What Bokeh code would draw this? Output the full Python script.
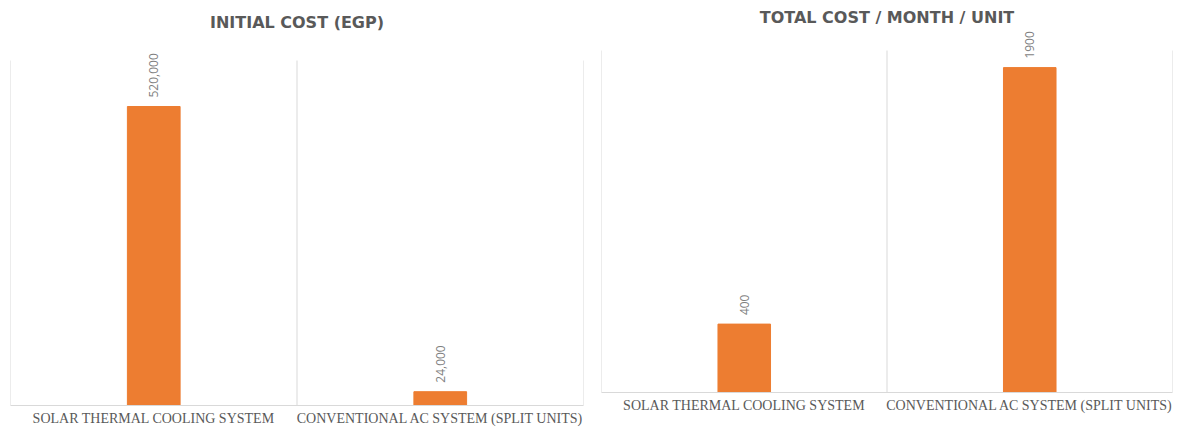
import math
from bokeh.plotting import figure
from bokeh.layouts import row, column
from bokeh.models import Range1d, FixedTicker, LabelSet, ColumnDataSource
from bokeh.core.properties import value
from bokeh.embed import file_html
from bokeh.resources import INLINE

categories = ["SOLAR THERMAL COOLING SYSTEM", "CONVENTIONAL AC SYSTEM (SPLIT UNITS)"]
initial_cost = [520000, 24000]
initial_labels = ["520,000", "24,000"]
initial_axis_max = 600000
monthly_cost = [400, 1900]
monthly_labels = ["400", "1900"]
monthly_axis_max = 2000

ORANGE = "#ED7D31"
GRID = "#d9d9d9"


def make(title, vals, labels, axis_max, fw, fh, grid_h, bl, br, bt, bb, t_standoff):
    n = len(categories)
    xs = [i + 0.5 for i in range(n)]
    y_end = axis_max * fh / grid_h  # extra headroom above the plot area for labels
    p = figure(frame_width=fw, frame_height=fh, x_range=Range1d(0, n),
               y_range=Range1d(0, y_end), output_backend="svg", toolbar_location=None,
               min_border_left=bl, min_border_right=br, min_border_top=bt,
               min_border_bottom=bb)
    p.title.text = title
    p.title.align = "center"
    p.title.text_font = "DejaVu Sans"
    p.title.text_font_size = "16px"
    p.title.text_font_style = "bold"
    p.title.text_color = "#595959"
    p.title.standoff = t_standoff
    p.outline_line_color = None

    bounds = list(range(n + 1))
    p.segment(x0=bounds, y0=[0] * len(bounds), x1=bounds, y1=[axis_max] * len(bounds),
              line_color=GRID, line_width=1)

    src = ColumnDataSource(dict(x=xs, top=vals, label=labels))
    p.vbar(x="x", top="top", width=0.184, fill_color=ORANGE, line_color=ORANGE, source=src)
    p.add_layout(LabelSet(x="x", y="top", text="label", source=src, angle=math.pi / 2,
                          text_align="left", text_baseline="middle", y_offset=9,
                          text_font=value("Open Sans"), text_font_size="12px",
                          text_color="#7f7f7f"))

    p.yaxis.visible = False
    p.ygrid.grid_line_color = None
    p.xgrid.grid_line_color = None
    p.xaxis.ticker = FixedTicker(ticks=xs)
    p.xaxis.major_label_overrides = {x: c for x, c in zip(xs, categories)}
    p.xaxis.major_tick_line_color = None
    p.xaxis.major_tick_out = 0
    p.xaxis.major_tick_in = 0
    p.xaxis.minor_tick_line_color = None
    p.xaxis.axis_line_color = GRID
    p.xaxis.major_label_text_font = "Liberation Serif"
    p.xaxis.major_label_text_font_size = "14px"
    p.xaxis.major_label_text_color = "#595959"
    p.xaxis.major_label_standoff = 5
    return p


p1 = make("INITIAL COST (EGP)", initial_cost, initial_labels, initial_axis_max,
          573, 365, 345, 10, 9, 40, 22, 18)
p2 = make("TOTAL COST / MONTH / UNIT", monthly_cost, monthly_labels, monthly_axis_max,
          571, 362, 342, 9, 10, 30, 22, 8)

layout = row(column(p1), column(p2))
open("out.html", "w").write(file_html(layout, INLINE))
